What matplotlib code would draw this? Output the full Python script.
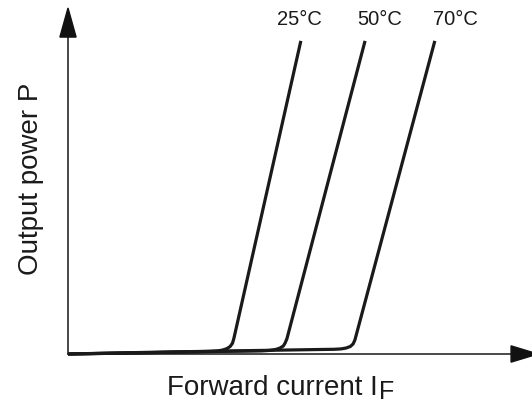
import matplotlib
matplotlib.use("Agg")
import matplotlib.pyplot as plt

plt.rcParams['font.family'] = ['Liberation Sans', 'DejaVu Sans']

# Data (arbitrary units: forward current 0-100, output power 0-100)
temps = ["25°C", "50°C", "70°C"]
current_25 = [0, 17.7, 30.7, 32.5, 33.5, 34.4, 35.1, 35.6, 35.9, 50.4]
power_25 = [0, 0.38, 0.75, 0.9, 1.16, 1.56, 2.17, 3.12, 4.48, 90.5]
current_50 = [0, 17.7, 33.0, 42.0, 43.7, 45.0, 45.9, 46.6, 47.0, 47.4, 64.3]
power_50 = [0, 0.4, 0.75, 0.9, 1.04, 1.33, 1.73, 2.31, 3.18, 4.48, 90.5]
current_70 = [0, 17.7, 39.4, 54.5, 57.6, 59.1, 60.2, 61.1, 61.7, 62.1, 79.4]
power_70 = [0, 0.49, 0.98, 1.3, 1.36, 1.47, 1.73, 2.17, 2.89, 4.05, 90.5]
label_x = [50.1, 67.5, 83.8]
label_y = [96.7, 96.7, 96.7]

W, H = 532, 403
fig = plt.figure(figsize=(W / 100, H / 100), dpi=100)
x0, y0, x1, y1 = 68, 354, 530, 8
ax = fig.add_axes([x0 / W, (H - y0) / H, (x1 - x0) / W, (y0 - y1) / H])
ax.set_xlim(0, 100)
ax.set_ylim(0, 100)
ax.axis('off')

curve_color = '#1a1a1a'
for cx, cy in [(current_25, power_25), (current_50, power_50), (current_70, power_70)]:
    ax.plot(cx, cy, color=curve_color, lw=2.3, solid_joinstyle='round',
            solid_capstyle='butt', clip_on=False, zorder=3)

for t, lx, ly in zip(temps, label_x, label_y):
    ax.text(lx, ly, t, ha='center', va='center', fontsize=14.5, color='#1a1a1a')

# axes with arrowheads
axis_color = '#2a2a2a'
ax.plot([0, 96], [0, 0], color=axis_color, lw=1.2, clip_on=False, zorder=2)
ax.plot([0, 0], [0, 92], color=axis_color, lw=1.2, clip_on=False, zorder=2)
ax.fill([95.9, 101.7, 95.9], [-2.35, 0, 2.35], color='#111111', clip_on=False, zorder=4)
ax.fill([-1.75, 0, 1.75], [91.6, 100, 91.6], color='#111111', clip_on=False, zorder=4)

fig.text(31 / W, 1 - 179 / H, "Output power P", rotation=90, ha='center', va='center',
         fontsize=20, color='#1a1a1a')
fig.text(167 / W, 1 - 395 / H, "Forward current I", ha='left', va='baseline',
         fontsize=20, color='#1a1a1a')
fig.text(379 / W, 1 - 399 / H, "F", ha='left', va='baseline',
         fontsize=18, color='#1a1a1a')

fig.savefig("out.png", dpi=100)
